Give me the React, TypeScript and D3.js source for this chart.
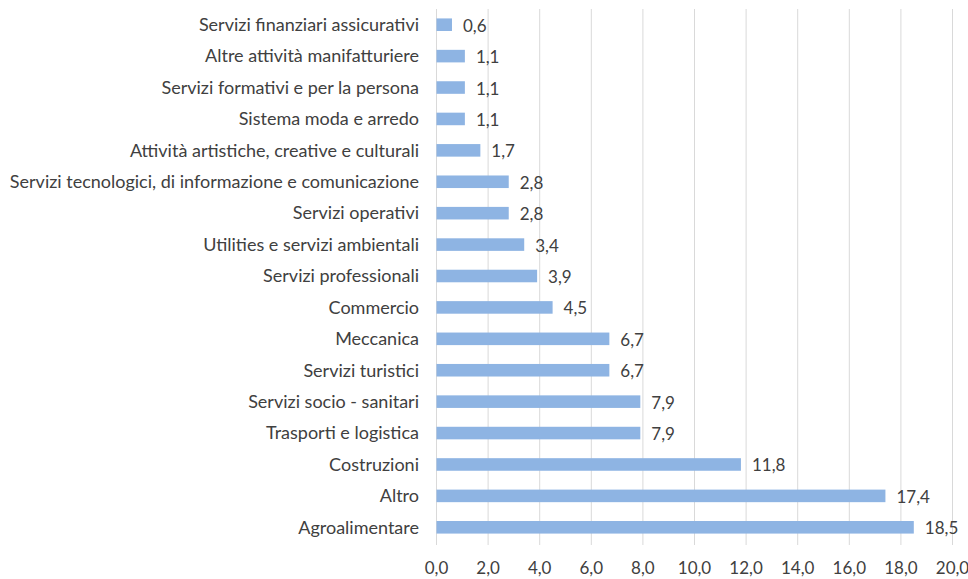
import React from 'react';
import * as d3 from 'd3';

const categories = [
  'Servizi finanziari assicurativi',
  'Altre attività manifatturiere',
  'Servizi formativi e per la persona',
  'Sistema moda e arredo',
  'Attività artistiche, creative e culturali',
  'Servizi tecnologici, di informazione e comunicazione',
  'Servizi operativi',
  'Utilities e servizi ambientali',
  'Servizi professionali',
  'Commercio',
  'Meccanica',
  'Servizi turistici',
  'Servizi socio - sanitari',
  'Trasporti e logistica',
  'Costruzioni',
  'Altro',
  'Agroalimentare',
];
const values = [0.6, 1.1, 1.1, 1.1, 1.7, 2.8, 2.8, 3.4, 3.9, 4.5, 6.7, 6.7, 7.9, 7.9, 11.8, 17.4, 18.5];
const ticks = [0, 2, 4, 6, 8, 10, 12, 14, 16, 18, 20];

const W = 968;
const H = 579;
const FONT = 'Lato, "Noto Sans", sans-serif';
const TEXT = '#404040';

export default function App() {
  const x = d3.scaleLinear().domain([0, 20]).range([436.5, 952.5]);
  const y = d3.scaleBand().domain(categories).range([9, 543]).paddingInner(0.6).paddingOuter(0.3);
  const fmt = (v: number) => d3.format('.1f')(v).replace('.', ',');
  const mid = (c: string) => (y(c) ?? 0) + y.bandwidth() / 2;

  return (
    <svg width={W} height={H} style={{ position: 'absolute', left: 0, top: 0, background: '#fff' }}>
      <g>
        {ticks.map((t) => (
          <line key={t} x1={x(t)} x2={x(t)} y1={9} y2={545} stroke="#d9d9d9" strokeWidth={1} />
        ))}
      </g>
      <g>
        {categories.map((c, i) => (
          <rect key={c} x={x(0)} y={y(c)} width={x(values[i]) - x(0)} height={y.bandwidth()} fill="#8eb4e3" />
        ))}
      </g>
      <g fontFamily={FONT} fill={TEXT}>
        {categories.map((c) => (
          <text key={c} x={419} y={mid(c)} dy="0.35em" textAnchor="end" fontSize={18}>
            {c}
          </text>
        ))}
        {categories.map((c, i) => (
          <text key={c + 'v'} x={x(values[i]) + 11} y={mid(c) + 7} fontSize={17}>
            {fmt(values[i])}
          </text>
        ))}
        {ticks.map((t) => (
          <text key={t} x={x(t)} y={574} textAnchor="middle" fontSize={17}>
            {fmt(t)}
          </text>
        ))}
      </g>
    </svg>
  );
}
